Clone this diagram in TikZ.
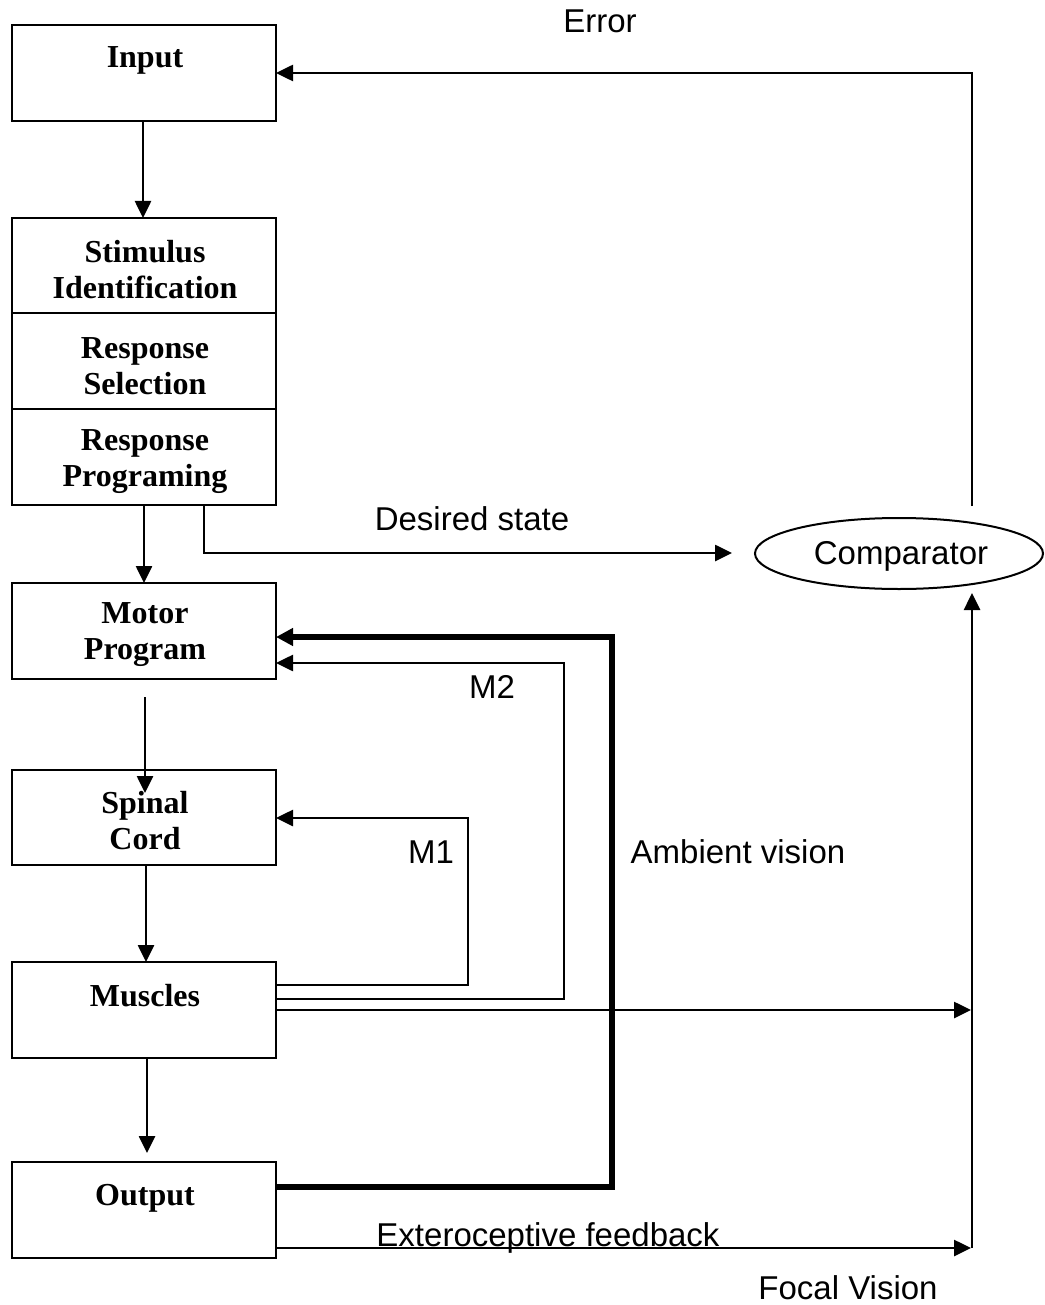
\documentclass[tikz,border=0pt]{standalone}
\usepackage{fontspec}
\setmainfont{Liberation Serif}
\newfontfamily\labfont{Liberation Sans}
\usetikzlibrary{arrows.meta,shapes.geometric}
\begin{document}
\begin{tikzpicture}[x=1pt,y=-1pt,
  box/.style={draw,line width=2.6pt,minimum width=264pt,inner sep=0pt,outer sep=0pt},
  boxtext/.style={font=\bfseries\fontsize{32}{36}\selectfont,align=center,inner sep=0pt},
  lab/.style={font=\labfont\fontsize{33}{38}\selectfont,inner sep=0pt},
  conn/.style={line width=2.6pt},
  arr/.style={conn,-{Triangle[length=17pt,width=16pt]}},
  thickarr/.style={line width=6pt,-{Triangle[length=17pt,width=17pt]}}
]
\useasboundingbox (0,0) rectangle (1044,1305);
% boxes
\node[box,minimum height=96pt] (input) at (144,73) {};
\node[box,minimum height=95pt] (stim) at (144,265.5) {};
\node[box,minimum height=96pt] (rsel) at (144,361) {};
\node[box,minimum height=96pt] (rprog) at (144,457) {};
\node[box,minimum height=96pt] (motor) at (144,631) {};
\node[box,minimum height=95pt] (spinal) at (144,817.5) {};
\node[box,minimum height=96pt] (muscles) at (144,1010) {};
\node[box,minimum height=96pt] (output) at (144,1210) {};
\node[draw,ellipse,line width=2pt,minimum width=288pt,minimum height=71pt,inner sep=0pt] (comp) at (899,553.5) {};
\node[lab] (tcomp) at (901,556) {Comparator};
% box texts
\node[boxtext] (tinput) at (145,60) {Input};
\node[boxtext] (tstim) at (145,270) {Stimulus\\Identification};
\node[boxtext] (trsel) at (145,366) {Response\\Selection};
\node[boxtext] (trprog) at (145,462) {Response\\Programing};
\node[boxtext] (tmotor) at (145,635) {Motor\\Program};
\node[boxtext] (tspinal) at (145,821) {Spinal\\Cord};
\node[boxtext] (tmuscles) at (145,996) {Muscles};
\node[boxtext] (toutput) at (145,1198) {Output};
% labels
\node[lab] (lerror) at (600,21) {Error};
\node[lab] (ldesired) at (472,519) {Desired state};
\node[lab] (lm2) at (492,687) {M2};
\node[lab] (lm1) at (431,852) {M1};
\node[lab] (lamb) at (738,852) {Ambient vision};
\node[lab] (lext) at (548,1238) {Exteroceptive feedback};
\node[lab] (lfocal) at (848,1288) {Focal Vision};
% coordinates
\coordinate (dsend) at (732,553);
\coordinate (errstart) at (972,506);
\coordinate (focaltip) at (972,593);
\coordinate (msstart) at (145,697);
\coordinate (mstip) at (145,793);
% vertical flow
\draw[arr] (input.south -| 143,0) -- (stim.north -| 143,0);
\draw[arr] (rprog.south -| 144,0) -- (motor.north -| 144,0);
\draw[arr] (msstart) -- (mstip);
\draw[arr] (spinal.south -| 146,0) -- (muscles.north -| 146,0);
\draw[arr] (muscles.south -| 147,0) -- (147,1153);
% desired state
\draw[arr] (rprog.south -| 204,0) -- (204,553) -- (dsend);
% error
\draw[arr] (errstart) -- (972,73) -- (input.east |- 0,73);
% focal vertical
\draw[arr] (972,1248) -- (focaltip);
% muscles to focal
\draw[arr] (muscles.east |- 0,1010) -- (971,1010);
% output to focal
\draw[arr] (output.east |- 0,1248) -- (971,1248);
% M1
\draw[arr] (muscles.east |- 0,985) -- (468,985) -- (468,818) -- (spinal.east |- 0,818);
% M2
\draw[arr] (muscles.east |- 0,999) -- (564,999) -- (564,663) -- (motor.east |- 0,663);
% ambient (thick)
\draw[thickarr] (output.east |- 0,1187) -- (612,1187) -- (612,637) -- (motor.east |- 0,637);
\end{tikzpicture}
\end{document}
